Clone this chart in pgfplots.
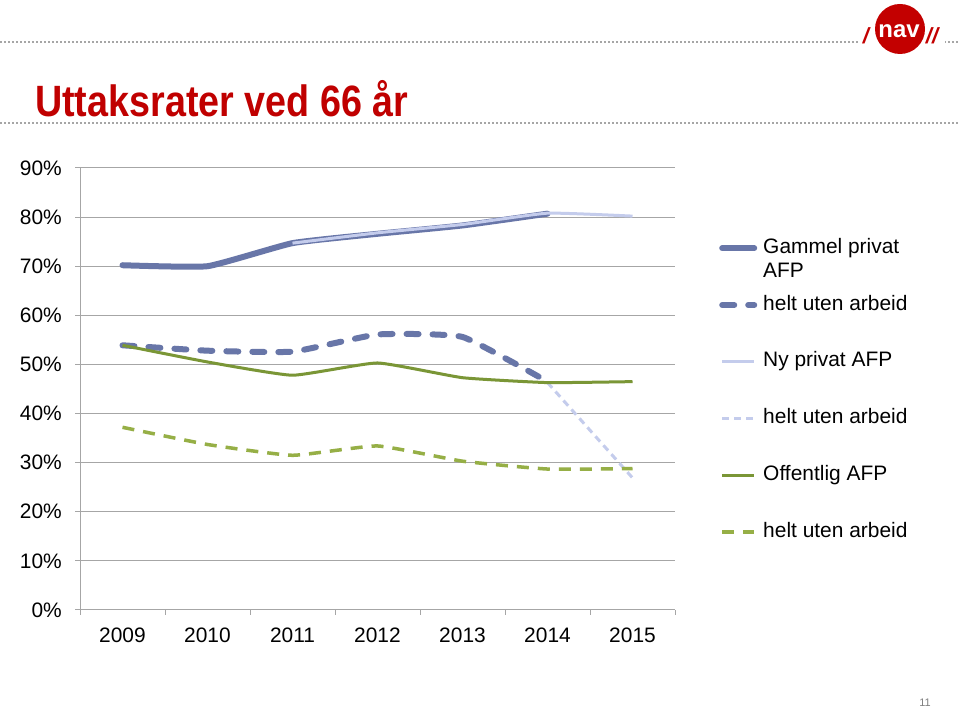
\documentclass[border=0pt]{standalone}
\usepackage{fontspec}
\setmainfont{Liberation Sans}
\newfontfamily\titlefont[FakeStretch=0.86]{Liberation Sans}
\usepackage{pgfplots}
\pgfplotsset{compat=1.18}
\definecolor{slate}{HTML}{6876A8}
\definecolor{lightslate}{HTML}{C4CCEC}
\definecolor{olive}{HTML}{7A9636}
\definecolor{lightolive}{HTML}{96AF46}
\definecolor{axgray}{HTML}{A6A6A6}
\definecolor{titlered}{HTML}{C00000}
\definecolor{navred}{HTML}{C30000}
\begin{document}
\begin{tikzpicture}
\begin{scope}[x=1bp,y=1bp]
\useasboundingbox (0,0) rectangle (960,711);
\fill[white] (0,0) rectangle (960,711);
\draw[gray!70, line width=1.6bp, dash pattern=on 1.6bp off 2.4bp] (0,669) -- (960,669);
\draw[gray!70, line width=1.6bp, dash pattern=on 1.6bp off 2.4bp] (0,588) -- (960,588);
\node[anchor=base west, inner sep=0pt, text=titlered, font=\titlefont\bfseries\fontsize{44}{50}\selectfont] at (35,594) {Uttaksrater ved 66 år};
\fill[white] (858,655) rectangle (945,708);
\fill[navred] (900,682) circle (25);
\node[white, inner sep=0pt, font=\bfseries\fontsize{24}{24}\selectfont] at (899,680) {nav};
\node[navred, inner sep=0pt, font=\bfseries\itshape\fontsize{22}{22}\selectfont] at (866,675) {/};
\node[navred, inner sep=0pt, font=\bfseries\itshape\fontsize{22}{22}\selectfont] at (932,675) {//};
\node[gray, inner sep=0pt, font=\fontsize{11}{13}\selectfont] at (925,8) {11};
\end{scope}
\begin{axis}[
  at={(80bp,101bp)}, anchor=south west,
  scale only axis, width=595bp, height=442bp,
  xmin=-0.5, xmax=6.5, ymin=0, ymax=90,
  axis x line=bottom, axis y line=left,
  axis line style={-, draw=axgray, line width=1bp},
  ytick={0,10,...,90},
  yticklabel={\pgfmathprintnumber{\tick}\%},
  /pgf/number format/assume math mode=true,
  ymajorgrids, major grid style={draw=axgray, line width=1bp},
  xtick={-0.5,0.5,...,6.5}, xticklabels={},
  extra x ticks={0,1,2,3,4,5,6},
  extra x tick labels={2009,2010,2011,2012,2013,2014,2015},
  extra x tick style={major tick length=0pt, grid=none},
  tick align=outside, major tick length=5bp,
  tick style={draw=axgray, line width=1bp},
  ticklabel style={font=\fontsize{21}{25}\selectfont, inner sep=0pt},
  yticklabel style={xshift=-13bp},
  xticklabel style={yshift=-18bp},
  legend cell align=left,
  legend style={at={(axis description cs:1.074,0.8416)}, anchor=north west,
    draw=none, fill=none, inner sep=0pt, row sep=36.8bp, column sep=6bp,
    font=\fontsize{21}{24}\selectfont,
    nodes={inner sep=0pt, text height=15bp, text depth=5bp}},
  legend image code/.code={\draw[#1] (0bp,0bp) -- (32bp,0bp);},
  every axis plot/.append style={smooth, tension=0.25},
]
\addplot[slate, line width=6bp, line cap=round] coordinates {
 (0,70.2) (1,70.0) (2,74.7) (3,76.6) (4,78.3) (5,80.7)};
\addlegendentry{\vtop{\hbox{Gammel privat}\hbox{AFP}}}
\addplot[slate, line width=6bp, line cap=round, dash pattern=on 12bp off 14bp] coordinates {
 (0,53.9) (1,52.8) (2,52.6) (3,56.1) (4,55.6) (5,46.5)};
\addlegendentry{helt uten arbeid}
\addplot[lightslate, line width=3bp] coordinates {
 (2,74.7) (3,76.8) (4,78.5) (5,80.8) (6,80.2)};
\addlegendentry{Ny privat AFP}
\addplot[lightslate, line width=3bp, dash pattern=on 7bp off 5bp] coordinates {
 (5,46.3) (6,26.9)};
\addlegendentry{helt uten arbeid}
\addplot[olive, line width=3bp] coordinates {
 (0,53.9) (1,50.5) (2,47.8) (3,50.3) (4,47.3) (5,46.3) (6,46.5)};
\addlegendentry{Offentlig AFP}
\addplot[lightolive, line width=3.5bp, dash pattern=on 12bp off 9bp] coordinates {
 (0,37.2) (1,33.7) (2,31.5) (3,33.4) (4,30.3) (5,28.7) (6,28.8)};
\addlegendentry{helt uten arbeid}
\end{axis}
\end{tikzpicture}
\end{document}
